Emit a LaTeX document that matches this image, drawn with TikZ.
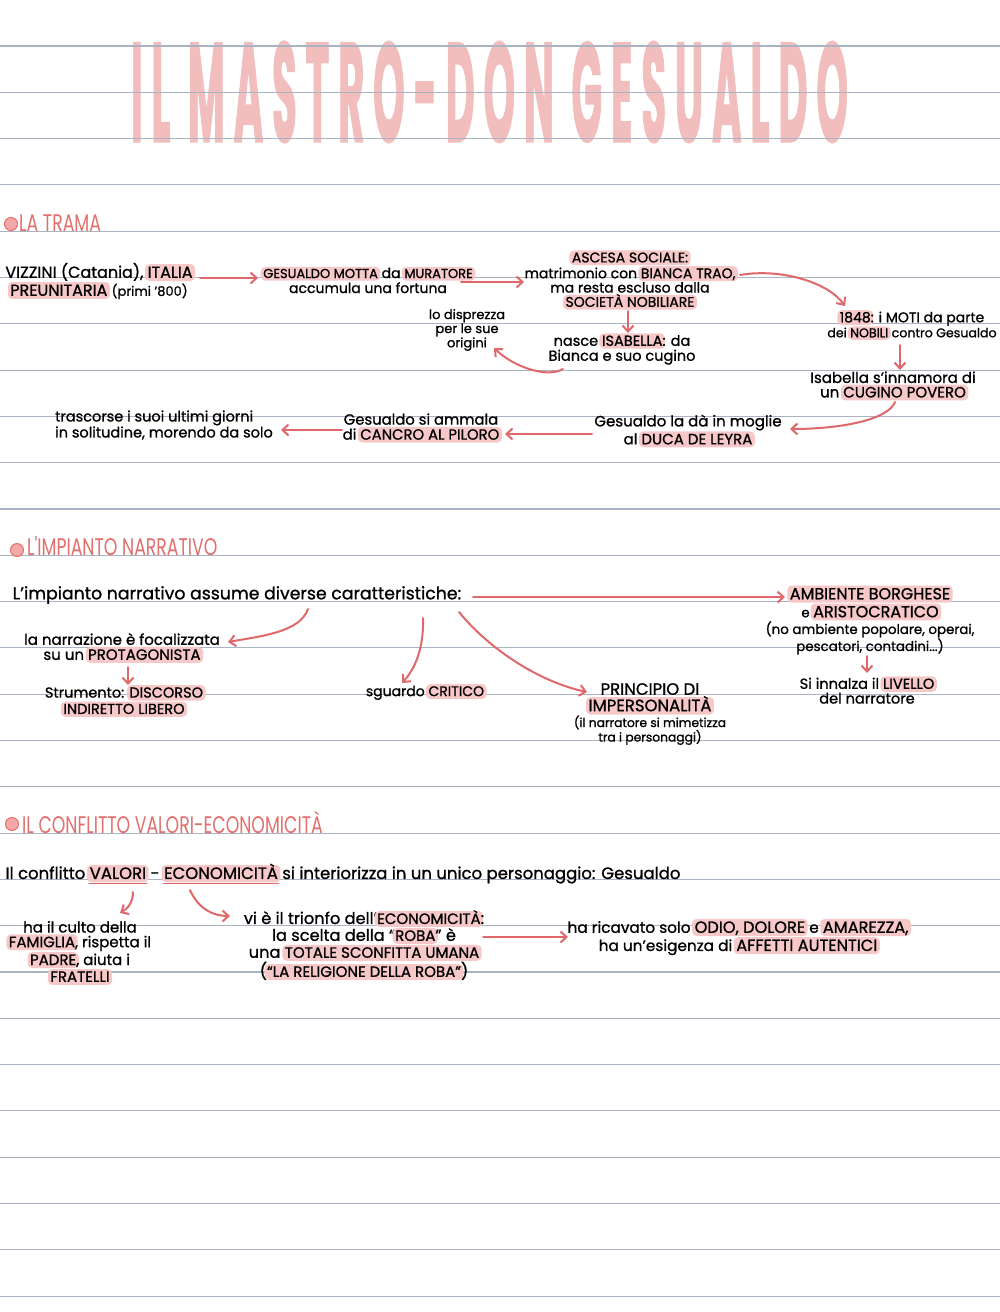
\documentclass[tikz,border=0pt]{standalone}
\usepackage{fontspec}
\setmainfont{Poppins}[FakeBold=1]
\newfontfamily\headfont{Poppins}[FakeStretch=0.72]
\newfontfamily\titlefont{Poppins}[FakeBold=1.6,LetterSpace=22]
\usetikzlibrary{arrows.meta}
\definecolor{rulecol}{HTML}{A9B3C1}
\definecolor{arrowred}{HTML}{E0676A}
\definecolor{hlpink}{HTML}{F6C8C8}
\definecolor{titlepink}{HTML}{F2BDBD}
\definecolor{headred}{HTML}{E26F6C}
\definecolor{dotpink}{HTML}{F2A9A7}
\newlength\hlw
\newsavebox\hlsave
\newcommand\hl[1]{\sbox\hlsave{#1}\setlength\hlw{\wd\hlsave}\addtolength\hlw{5pt}%
  \hspace{-2.5pt}\tikz[baseline=0pt]\fill[hlpink,rounded corners=4.5pt] (0pt,-0.2em) rectangle (\hlw,0.86em);%
  \hspace{-\hlw}\hspace{2.5pt}\usebox\hlsave}
\newcommand\hlu[1]{\sbox\hlsave{#1}\setlength\hlw{\wd\hlsave}\addtolength\hlw{5pt}%
  \hspace{-2.5pt}\tikz[baseline=0pt]{\fill[hlpink,rounded corners=4.5pt] (0pt,-0.2em) rectangle (\hlw,0.86em);
  \draw[arrowred,line width=1.4pt,line cap=round] (2pt,-0.28em) -- ([xshift=-2pt]\hlw,-0.28em);}%
  \hspace{-\hlw}\hspace{2.5pt}\usebox\hlsave}
\newcommand\fs[2]{\fontsize{#1}{#2}\selectfont}
\tikzset{
  txt/.style={align=center, inner sep=0pt, text=black},
  arr/.style={draw=arrowred, line width=2pt, line cap=round, -{Straight Barb[length=6pt,width=11pt]}},
  headdot/.style={circle, fill=dotpink, draw=headred, line width=1pt, minimum size=13pt, inner sep=0pt},
  head/.style={anchor=base west, inner sep=0pt, text=headred, font=\headfont\fs{24}{26}},
}
\begin{document}
\begin{tikzpicture}[x=1pt,y=-1pt]
\useasboundingbox (0,0) rectangle (1000,1312);
\fill[white] (0,0) rectangle (1000,1312);
% title
\node[inner sep=0pt, text=titlepink] (title) at (485,92) {\resizebox{708pt}{100pt}{\titlefont\bfseries IL MASTRO-DON GESUALDO\hspace{-0.22em}}};
% ruled lines
\foreach \k in {0,...,27} \draw[rulecol, line width=1.1pt] (0,46+46.3*\k) -- (1000,46+46.3*\k);

% ===== LA TRAMA
\node[headdot] (d1) at (11,224) {};
\node[head] (h1) at (19,231) {LA TRAMA};
\node[txt,font=\fs{16}{16.5}] (v1) at (99,281) {VIZZINI (Catania), \hl{ITALIA}\\\hl{PREUNITARIA} {\fs{13}{16}(primi '800)}};
\node[txt,font=\fs{14}{15}] (v2) at (368,280) {{\fs{13}{15}\hl{GESUALDO MOTTA}} da {\fs{13}{15}\hl{MURATORE}}\\accumula una fortuna};
\node[txt,font=\fs{14}{14.3}] (v3) at (630,280) {\hl{ASCESA SOCIALE:}\\matrimonio con \hl{BIANCA TRAO,}\\ma resta escluso dalla\\\hl{SOCIETÀ NOBILIARE}};
\node[txt,font=\fs{14.5}{13.5}] (v4) at (622,349) {nasce \hl{ISABELLA}: da\\Bianca e suo cugino};
\node[txt,font=\fs{13}{11.3}] (v5) at (467,330) {lo disprezza\\per le sue\\origini};
\node[txt,font=\fs{14}{15}] (v6) at (912,325) {\hl{1848}: i MOTI da parte\\{\fs{12.6}{15}dei \hl{NOBILI} contro Gesualdo}};
\node[txt,font=\fs{15}{14.5}] (v7) at (893,386) {Isabella s'innamora di\\un \hl{CUGINO POVERO}};
\node[txt,font=\fs{15}{15.5}] (v8) at (688,431) {Gesualdo la dà in moglie\\al \hl{DUCA DE LEYRA}};
\node[txt,font=\fs{14.8}{15}] (v9) at (421,428) {Gesualdo si ammala\\di \hl{CANCRO AL PILORO}};
\node[txt,align=left,font=\fs{14.5}{16}] (v10) at (164,425) {trascorse i suoi ultimi giorni\\in solitudine, morendo da solo};

\draw[arr] ([shift={(101,-3)}]v1.center) -- ([shift={(-110,-2)}]v2.center);
\draw[arr] ([shift={(93,2)}]v2.center) -- ([shift={(-106,2)}]v3.center);
\draw[arr] ([shift={(-2,31)}]v3.center) -- ([shift={(6,-16)}]v4.center);
\draw[arr] ([shift={(-59,20)}]v4.center) .. controls (548,378) and (515,368) .. ([shift={(27,18)}]v5.center);
\draw[arr] ([shift={(110,-5)}]v3.center) .. controls (780,268) and (828,282) .. ([shift={(-67,-19)}]v6.center);
\draw[arr] ([shift={(-12,20)}]v6.center) -- ([shift={(7,-16)}]v7.center);
\draw[arr] ([shift={(2,16)}]v7.center) .. controls (888,420) and (840,429) .. ([shift={(102,-2)}]v8.center);
\draw[arr] ([shift={(-96,3)}]v8.center) -- ([shift={(84,6)}]v9.center);
\draw[arr] ([shift={(-79,2)}]v9.center) -- ([shift={(117,5)}]v10.center);

% ===== L'IMPIANTO NARRATIVO
\node[headdot] (d2) at (17,550) {};
\node[head] (h2) at (27,555) {L'IMPIANTO NARRATIVO};
\node[txt,font=\fs{17.3}{18}] (n0) at (237,595) {L'impianto narrativo assume diverse caratteristiche:};
\node[txt,font=\fs{13.4}{14.5}] (n1) at (870,620) {{\fs{16}{14.5}\hl{AMBIENTE BORGHESE}}\\e {\fs{16}{14.5}\hl{ARISTOCRATICO}}\\(no ambiente popolare, operai,\\pescatori, contadini...)};
\node[txt,font=\fs{14.6}{13}] (n2) at (867,690) {Si innalza il \hl{LIVELLO}\\del narratore};
\node[txt,font=\fs{15}{15}] (n3) at (122,648) {la narrazione è focalizzata\\su un \hl{PROTAGONISTA}};
\node[txt,font=\fs{14.5}{14}] (n4) at (124,701) {Strumento: \hl{DISCORSO}\\\hl{INDIRETTO LIBERO}};
\node[txt,font=\fs{14}{15}] (n5) at (425,692) {sguardo \hl{CRITICO}};
\node[txt,font=\fs{12.3}{14.5}] (n6) at (650,714) {{\fs{16.5}{14.5}PRINCIPIO DI}\\{\fs{16.5}{14.5}\hl{IMPERSONALITÀ}}\\(il narratore si mimetizza\\tra i personaggi)};

\draw[arr] ([shift={(236,2)}]n0.center) -- ([shift={(-85,-23)}]n1.center);
\draw[arr] ([shift={(71,14)}]n0.center) .. controls (300,632) and (262,636) .. ([shift={(106,-6)}]n3.center);
\draw[arr] ([shift={(6,19)}]n3.center) -- ([shift={(4,-16)}]n4.center);
\draw[arr] ([shift={(186,23)}]n0.center) .. controls (424,650) and (414,670) .. ([shift={(-23,-9)}]n5.center);
\draw[arr] ([shift={(222,17)}]n0.center) .. controls (490,650) and (540,682) .. ([shift={(-63,-22)}]n6.center);
\draw[arr] ([shift={(-3,36)}]n1.center) -- ([shift={(0,-17)}]n2.center);

% ===== IL CONFLITTO
\node[headdot] (d3) at (12,824) {};
\node[head] (h3) at (22,833) {IL CONFLITTO VALORI-ECONOMICITÀ};
\node[txt,font=\fs{16.5}{18}] (c0) at (343,874) {Il conflitto \hlu{VALORI} - \hlu{ECONOMICITÀ} si interiorizza in un unico personaggio: Gesualdo};
\node[txt,font=\fs{15}{14.7}] (c1) at (80,953) {ha il culto della\\\hl{FAMIGLIA}, rispetta il\\\hl{PADRE}, aiuta i\\\hl{FRATELLI}};
\node[txt,font=\fs{16.2}{15}] (c2) at (364,945) {vi è il trionfo dell'{\fs{15}{15}\hl{ECONOMICITÀ}}:\\la scelta della “{\fs{15}{15}\hl{ROBA}}” è\\una {\fs{15}{15}\hl{TOTALE SCONFITTA UMANA}}\\({\fs{15}{15}\hl{“LA RELIGIONE DELLA ROBA”}})};
\node[txt,font=\fs{15.3}{14.5}] (c3) at (738,937) {ha ricavato solo {\fs{16.2}{14.5}\hl{ODIO, DOLORE}} e {\fs{16.2}{14.5}\hl{AMAREZZA,}}\\ha un'esigenza di {\fs{16.2}{14.5}\hl{AFFETTI AUTENTICI}}};

\draw[arr] ([shift={(-210,18)}]c0.center) .. controls (133,903) and (127,909) .. ([shift={(40,-40)}]c1.center);
\draw[arr] ([shift={(-153,16)}]c0.center) .. controls (198,908) and (212,916) .. ([shift={(-134,-29)}]c2.center);
\draw[arr] ([shift={(119,-8)}]c2.center) -- ([shift={(-170,0)}]c3.center);
\end{tikzpicture}
\end{document}
